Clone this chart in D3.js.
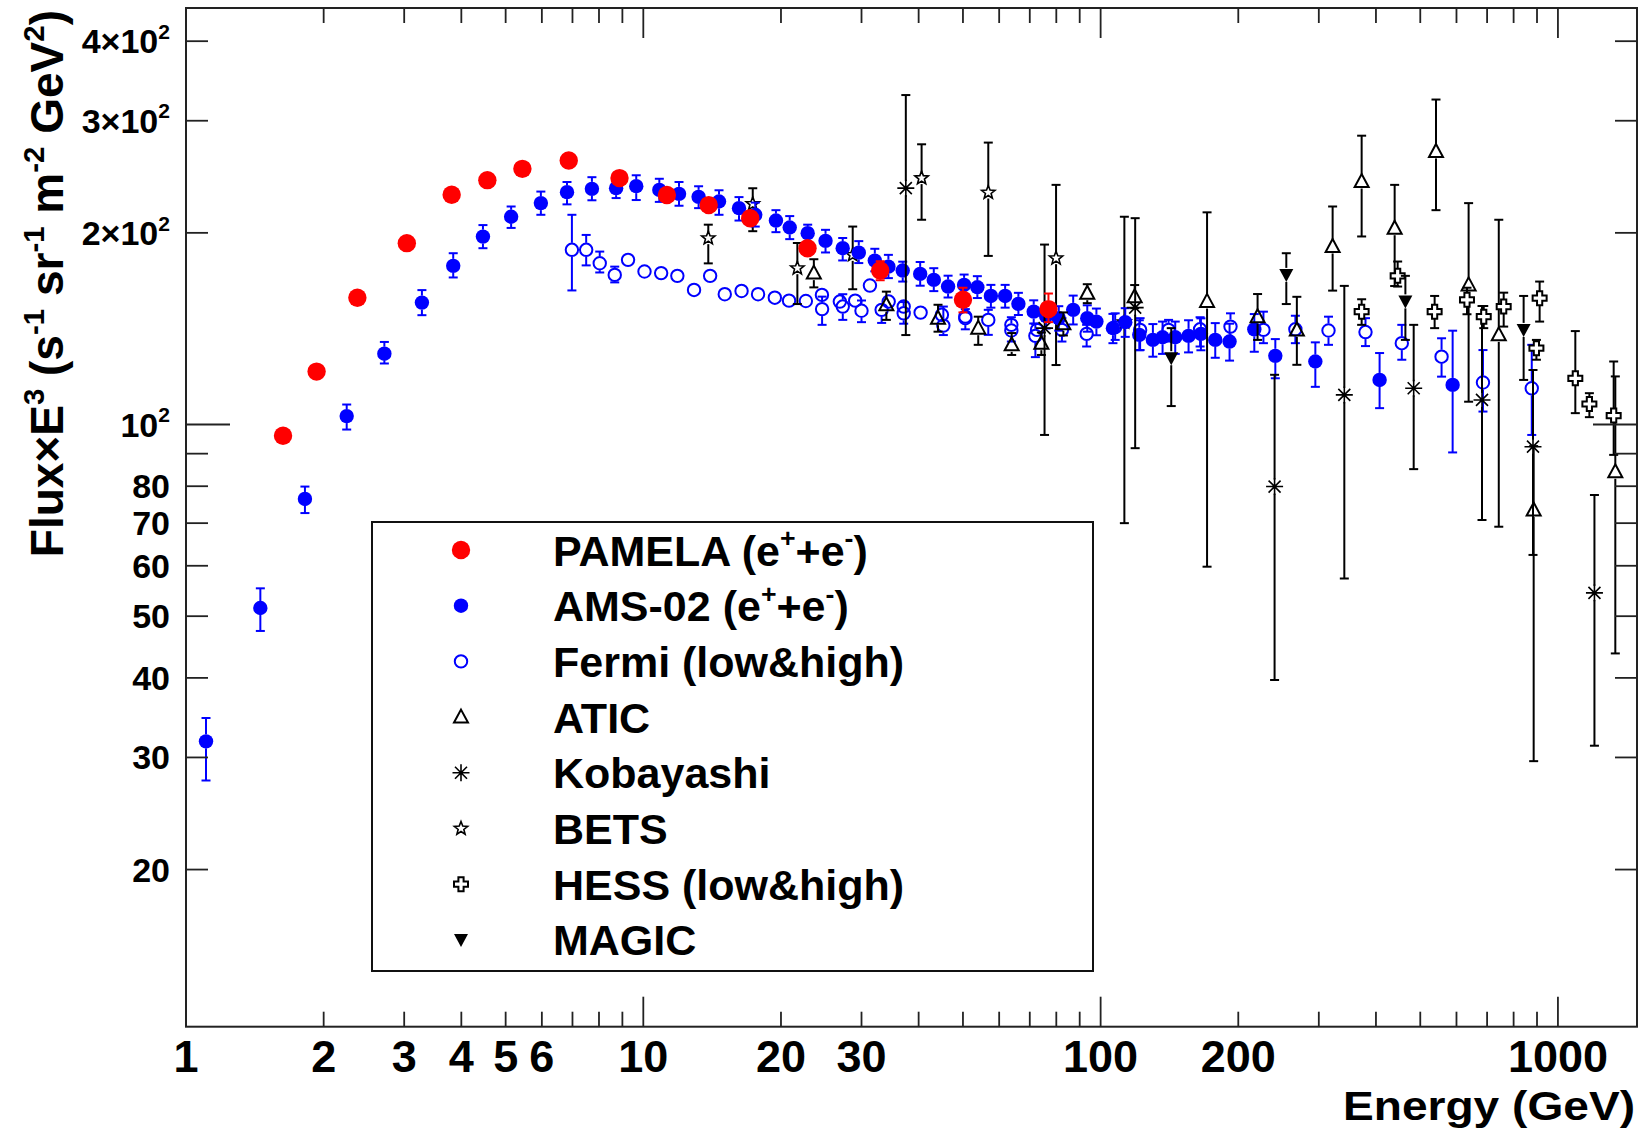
<!DOCTYPE html>
<html>
<head>
<meta charset="utf-8">
<script src="https://cdn.jsdelivr.net/npm/d3@7"></script>
<style>
  html, body { margin: 0; padding: 0; background: #ffffff; }
  svg { display: block; font-family: "Liberation Sans", Arial, Helvetica, sans-serif; font-weight: bold; }
</style>
</head>
<body>
<svg id="chart" width="1641" height="1133"></svg>
<script>
// ---- measurements: each row is [energy GeV, flux x E^3, error up, error down] ----
const pamela = [
  [1.63, 96.0, 1.5, 1.5], [1.93, 121.1, 1.8, 1.8], [2.37, 158.2, 2.2, 2.2], [3.04, 192.7, 2.6, 2.6],
  [3.81, 229.5, 3.0, 3.0], [4.56, 242.0, 3.2, 3.2], [5.44, 252.1, 3.4, 3.4], [6.87, 259.8, 3.6, 3.6],
  [8.87, 243.8, 3.6, 3.6], [11.26, 229.3, 3.8, 3.8], [13.9, 221.1, 4.0, 4.0], [17.13, 210.9, 4.5, 4.5],
  [22.86, 189.2, 5.0, 5.0], [32.96, 174.5, 6.0, 6.0], [50.0, 157.0, 7.0, 7.0], [76.9, 151.8, 8.8, 7.0]
];

const ams02 = [
  [1.106, 31.8, 2.8, 4.2], [1.454, 51.5, 3.8, 4.1], [1.82, 76.4, 3.5, 3.8], [2.246, 103.1, 4.4, 4.9],
  [2.715, 129.2, 5.6, 4.5], [3.28, 155.4, 7.2, 6.9], [3.84, 177.5, 8.3, 7.3], [4.46, 197.3, 8.4, 8.1],
  [5.14, 212.0, 8.0, 8.4], [5.97, 222.7, 9.5, 9.2], [6.81, 231.7, 8.7, 10.0], [7.72, 234.5, 10.1, 9.5],
  [8.72, 235.1, 8.7, 8.3], [9.65, 236.8, 9.5, 11.6], [10.84, 233.6, 9.6, 9.9], [11.97, 230.3, 10.1, 9.7],
  [13.21, 227.8, 8.9, 9.1], [14.64, 224.0, 9.3, 10.5], [16.19, 218.7, 8.9, 9.6], [17.57, 213.5, 9.6, 8.9],
  [19.5, 209.1, 8.0, 8.6], [20.9, 203.9, 8.6, 8.4], [22.88, 199.8, 6.2, 7.1], [25.03, 194.3, 7.9, 8.0],
  [27.29, 189.2, 7.1, 8.2], [29.59, 186.2, 7.9, 6.9], [32.08, 180.9, 7.9, 6.9], [34.35, 177.0, 7.7, 7.2],
  [36.92, 174.5, 5.7, 6.8], [40.31, 172.4, 7.6, 7.2], [43.17, 168.7, 7.3, 6.7], [46.39, 164.7, 6.6, 6.4],
  [50.29, 165.7, 6.3, 6.6], [53.76, 164.3, 6.7, 6.3], [57.55, 159.2, 6.5, 6.6], [61.83, 159.2, 6.5, 6.6],
  [66.1, 154.7, 6.3, 6.1], [71.4, 150.4, 6.3, 6.3], [76.0, 148.0, 6.5, 6.5], [81.0, 146.9, 6.5, 6.5],
  [87.1, 151.4, 8.0, 7.8], [93.5, 146.9, 7.0, 7.0], [97.9, 145.1, 7.0, 7.0], [106.4, 141.7, 7.5, 7.5],
  [113.2, 144.8, 7.5, 7.5], [121.5, 138.3, 7.5, 7.5], [130.1, 135.8, 8.0, 8.0], [136.6, 137.1, 8.0, 8.0],
  [145.6, 137.1, 8.0, 8.0], [155.7, 137.8, 8.0, 8.0], [165.7, 138.8, 8.0, 8.0], [178.1, 135.8, 8.5, 8.5],
  [191.4, 135.0, 9.0, 9.0], [216.8, 141.1, 8.0, 11.0], [241.0, 128.2, 8.0, 10.0], [294.8, 125.6, 9.0, 11.0],
  [407.4, 117.5, 12.0, 11.4], [588.5, 115.4, 25.0, 25.0]
];

const fermiLow = [
  [6.98, 188.1, 25.4, 25.7], [7.50, 188.1, 10.4, 10.3], [8.03, 179.2, 7.7, 5.9], [8.66, 171.8, 5.2, 4.6],
  [9.26, 181.4, 3, 3], [10.06, 173.9, 3, 3], [10.94, 172.9, 3, 3], [11.87, 171.2, 3, 3],
  [12.91, 162.7, 3, 3], [14.0, 171.2, 3, 3], [15.07, 160.2, 3, 3], [16.4, 162.1, 3, 3],
  [17.82, 160.2, 3, 3], [19.39, 158.2, 3, 3], [20.83, 156.5, 3, 3], [22.67, 156.3, 3, 3],
  [24.58, 159.8, 3, 3], [26.9, 156.0, 3, 3], [29.06, 156.5, 3, 3], [31.3, 165.3, 3, 3],
  [34.4, 156.0, 3, 3], [37.1, 153.2, 3, 3], [40.4, 149.9, 3, 3], [44.97, 148.7, 3, 3],
  [50.6, 147.7, 3, 3], [63.8, 143.4, 3, 3], [72.6, 140.8, 3, 3]
];

const fermiHigh = [
  [24.6, 151.8, 7.0, 8.4], [27.3, 153.2, 7.0, 7.2], [30.0, 150.9, 5.7, 6.1], [33.2, 151.4, 3.7, 7.0],
  [37.1, 149.5, 6.2, 5.5], [45.3, 143.0, 10.2, 4.8], [50.6, 146.9, 4.9, 5.8], [56.8, 146.0, 5.4, 7.7],
  [63.8, 140.5, 6.9, 5.5], [72.0, 137.8, 6.1, 10.2], [82.3, 140.8, 6.1, 5.8], [93.2, 138.8, 4.6, 6.2],
  [107.6, 142.2, 7.3, 6.4], [122.0, 140.8, 6.1, 9.9], [140.8, 140.8, 5.2, 5.8], [165.0, 141.1, 6.3, 8.5],
  [192.3, 142.5, 7.0, 6.4], [227.0, 140.8, 9.6, 6.6], [266.6, 141.1, 7.1, 6.9], [315.0, 140.5, 7.2, 7.1],
  [379.5, 139.7, 7.2, 6.9], [455.6, 134.2, 9.2, 7.8], [556.6, 127.8, 8.8, 8.9], [685.6, 116.4, 14.5, 11.6],
  [876.5, 114.0, 19.4, 17.7]
];

const atic = [
  [23.6, 172.9, 8.9, 8.7], [34.0, 154.2, 7.5, 8.2], [44.1, 146.9, 7.3, 7.0], [54.0, 141.7, 6.0, 8.3],
  [63.9, 133.4, 5.8, 4.8], [74.2, 134.2, 5.3, 5.6], [82.9, 144.0, 6.0, 6.0], [93.5, 160.8, 5.3, 5.7],
  [118.7, 158.8, 6.8, 6.5], [170.9, 156.1, 59.3, 96.3], [220.4, 147.7, 12.6, 11.9], [268.6, 140.8, 17.9, 16.7],
  [321.6, 190.4, 29.6, 28.1], [372.2, 240.8, 43.4, 43.4], [439.5, 203.4, 34.5, 38.4], [541.2, 268.5, 55.4, 51.4],
  [637.8, 165.7, 57.0, 57.1], [742.4, 138.3, 71.4, 69.2], [885.0, 73.4, 19.1, 43.8], [1335, 84.3, 34.7, 40.6]
];

const kobayashi = [
  [37.5, 235.1, 94.1, 96.9], [75.4, 141.7, 50.0, 45.4], [119.0, 152.6, 58.3, 60.8],
  [240.1, 79.9, 39.8, 40.2], [341.1, 111.3, 53.8, 54.0], [483.7, 114.0, 29.4, 28.9],
  [682.3, 109.3, 44.2, 38.5], [882.0, 92.3, 29.5, 29.9], [1201.8, 54.4, 23.1, 23.1]
];

const bets = [
  [13.87, 196.2, 9.8, 17.1], [17.35, 222.1, 12.9, 20.9], [21.72, 176.0, 16.8, 21.4],
  [28.7, 184.7, 19.9, 21.6], [40.6, 243.8, 31.7, 34.1], [56.8, 231.4, 45.8, 47.4],
  [79.9, 182.5, 55.4, 58.5], [112.7, 144.8, 67.2, 74.8]
];

const hess = [
  [372.2, 150.4, 6.9, 7.0], [446.2, 171.2, 9.1, 6.5], [537.5, 150.4, 8.8, 8.7], [632.6, 157.0, 7.0, 8.0],
  [688.3, 147.7, 5.8, 6.0], [761.0, 153.2, 7.9, 10.7], [897.3, 131.8, 4.0, 5.4], [912.0, 157.9, 9.8, 12.8],
  [1091.5, 118.2, 22.0, 14.0], [1171.6, 107.7, 4.3, 5.0], [1324, 103.3, 22.3, 13.7]
];

const magic = [
  [142.7, 127.1, 14.6, 20.2], [254.7, 171.8, 14.0, 17.2], [463.9, 156.1, 15.1, 20.3], [841.4, 140.8, 18.4, 23.3]
];

// ---- axis ticks and labels ----
const xTickLabels = [1, 2, 3, 4, 5, 6, 10, 20, 30, 100, 200, 1000];
const yTickValues = [20, 30, 40, 50, 60, 70, 80, 90, 100, 200, 300, 400];
const yTickLabels = [[20, "20"], [30, "30"], [40, "40"], [50, "50"], [60, "60"], [70, "70"], [80, "80"],
                     [100, "10^{2}"], [200, "2×10^{2}"], [300, "3×10^{2}"], [400, "4×10^{2}"]];
const legendEntries = [
  ["PAMELA (e^{+}+e^{-})", "pamela"], ["AMS-02 (e^{+}+e^{-})", "ams"], ["Fermi (low&high)", "fermi"],
  ["ATIC", "atic"], ["Kobayashi", "kobayashi"], ["BETS", "bets"], ["HESS (low&high)", "hess"], ["MAGIC", "magic"]
];

// ---- frame geometry ----
const frame = { left: 186, right: 1637, top: 8, bottom: 1026.7 };
const x = d3.scaleLog().domain([1, 1489]).range([frame.left, frame.right]);
const y = d3.scaleLog().domain([11.33, 451]).range([frame.bottom, frame.top]);

const svg = d3.select("#chart");
svg.append("rect").attr("width", 1641).attr("height", 1133).attr("fill", "#ffffff");

// text with ^{...} superscripts
function richText(sel, str, fs, supScale) {
  const parts = str.split(/(\^\{[^}]*\})/).filter(s => s.length);
  let raised = false;
  parts.forEach(p => {
    const sup = p.startsWith("^{");
    const t = sel.append("tspan").text(sup ? p.slice(2, -1) : p);
    if (sup) {
      t.attr("font-size", fs * supScale).attr("dy", -fs * 0.42);
      raised = true;
    } else if (raised) {
      t.attr("dy", fs * 0.42);
      raised = false;
    }
  });
}

// ---- marker styles ----
const styles = {
  pamela:    { color: "#ff0000", gap: 9 },
  ams:       { color: "#0000ff", gap: 7 },
  fermi:     { color: "#0000ff", gap: 7 },
  atic:      { color: "#000000", gap: 7 },
  kobayashi: { color: "#000000", gap: 7 },
  bets:      { color: "#000000", gap: 6 },
  hess:      { color: "#000000", gap: 7 },
  magic:     { color: "#000000", gap: 7 }
};

function starPath(ro, ri) {
  let p = "";
  for (let i = 0; i < 10; i++) {
    const r = i % 2 ? ri : ro;
    const a = -Math.PI / 2 + i * Math.PI / 5;
    p += (i ? "L" : "M") + (r * Math.cos(a)).toFixed(2) + "," + (r * Math.sin(a)).toFixed(2);
  }
  return p + "Z";
}

function drawMarker(g, kind, cx, cy) {
  const m = g.append("g").attr("transform", `translate(${cx},${cy})`);
  const c = styles[kind].color;
  switch (kind) {
    case "pamela":
      m.append("circle").attr("r", 9.2).attr("fill", c); break;
    case "ams":
      m.append("circle").attr("r", 7.2).attr("fill", c); break;
    case "fermi":
      m.append("circle").attr("r", 6.2).attr("fill", "none").attr("stroke", c).attr("stroke-width", 2); break;
    case "atic":
      m.append("path").attr("d", "M0,-7.5L7,5.5L-7,5.5Z").attr("fill", "none").attr("stroke", c).attr("stroke-width", 2); break;
    case "magic":
      m.append("path").attr("d", "M0,7L7,-6L-7,-6Z").attr("fill", c); break;
    case "kobayashi":
      m.append("path").attr("d", "M0,-8.5V8.5M-8.5,0H8.5M-6,-6L6,6M-6,6L6,-6")
        .attr("stroke", c).attr("stroke-width", 1.6).attr("fill", "none"); break;
    case "bets":
      m.append("path").attr("d", starPath(7, 3)).attr("fill", "none").attr("stroke", c).attr("stroke-width", 1.6); break;
    case "hess":
      m.append("path").attr("d", "M-2.6,-7H2.6V-2.6H7V2.6H2.6V7H-2.6V2.6H-7V-2.6H-2.6Z")
        .attr("fill", "#ffffff").attr("stroke", c).attr("stroke-width", 2); break;
  }
}

function drawSeries(rows, kind) {
  const g = svg.append("g").attr("class", kind);
  const st = styles[kind];
  rows.forEach(([e, f, up, dn]) => {
    const cx = x(e), cy = y(f);
    const yt = y(f + up), yb = y(f - dn);
    const eg = g.append("g").attr("stroke", st.color).attr("stroke-width", 2).attr("fill", "none");
    if (cy - yt > st.gap) {
      eg.append("line").attr("x1", cx).attr("x2", cx).attr("y1", yt).attr("y2", cy - st.gap);
      eg.append("line").attr("x1", cx - 4.5).attr("x2", cx + 4.5).attr("y1", yt).attr("y2", yt);
    }
    if (yb - cy > st.gap) {
      eg.append("line").attr("x1", cx).attr("x2", cx).attr("y1", cy + st.gap).attr("y2", yb);
      eg.append("line").attr("x1", cx - 4.5).attr("x2", cx + 4.5).attr("y1", yb).attr("y2", yb);
    }
    drawMarker(g, kind, cx, cy);
  });
}

// ---- data layers ----
drawSeries(fermiLow, "fermi");
drawSeries(fermiHigh, "fermi");
drawSeries(bets, "bets");
drawSeries(ams02, "ams");
drawSeries(atic, "atic");
drawSeries(kobayashi, "kobayashi");
drawSeries(hess, "hess");
drawSeries(magic, "magic");
drawSeries(pamela, "pamela");

// ---- frame and ticks ----
const axisColor = "#222222";
svg.append("rect")
  .attr("x", frame.left).attr("y", frame.top)
  .attr("width", frame.right - frame.left).attr("height", frame.bottom - frame.top)
  .attr("fill", "none").attr("stroke", axisColor).attr("stroke-width", 2);

const xTicks = [];
[1, 10, 100, 1000].forEach(d => {
  for (let k = 1; k <= 9; k++) {
    const v = d * k;
    if (v > 1 && v <= x.domain()[1]) xTicks.push({ v, major: k === 1 });
  }
});
const tickG = svg.append("g").attr("stroke", axisColor).attr("stroke-width", 1.8);
xTicks.forEach(t => {
  const px = x(t.v), len = t.major ? 30 : 15;
  tickG.append("line").attr("x1", px).attr("x2", px).attr("y1", frame.bottom).attr("y2", frame.bottom - len);
  tickG.append("line").attr("x1", px).attr("x2", px).attr("y1", frame.top).attr("y2", frame.top + len);
});
yTickValues.forEach(v => {
  const py = y(v), len = v === 100 ? 44 : 22;
  tickG.append("line").attr("x1", frame.left).attr("x2", frame.left + len).attr("y1", py).attr("y2", py);
  tickG.append("line").attr("x1", frame.right).attr("x2", frame.right - len).attr("y1", py).attr("y2", py);
});

// tick labels
xTickLabels.forEach(v => {
  svg.append("text").attr("x", x(v)).attr("y", 1072)
    .attr("text-anchor", "middle").attr("font-size", 45).attr("fill", "#000").text(v);
});
yTickLabels.forEach(([v, s]) => {
  const t = svg.append("text").attr("x", 170).attr("y", y(v) + 12)
    .attr("text-anchor", "end").attr("font-size", 34).attr("fill", "#000");
  richText(t, s, 34, 0.62);
});

// axis titles
svg.append("text").attr("x", 1635).attr("y", 1120).attr("text-anchor", "end")
  .attr("font-size", 40).attr("textLength", 292).attr("lengthAdjust", "spacingAndGlyphs")
  .attr("fill", "#000").text("Energy (GeV)");
const yTitle = svg.append("text").attr("transform", "translate(63,10) rotate(-90)")
  .attr("text-anchor", "end").attr("font-size", 46).attr("fill", "#000");
richText(yTitle, "Flux×E^{3} (s^{-1} sr^{-1} m^{-2} GeV^{2})", 46, 0.64);

// ---- legend ----
const leg = { x0: 372, y0: 522, x1: 1093, y1: 971, rowTop: 550, rowStep: 55.7, markX: 461, textX: 553 };
svg.append("rect").attr("x", leg.x0).attr("y", leg.y0)
  .attr("width", leg.x1 - leg.x0).attr("height", leg.y1 - leg.y0)
  .attr("fill", "#ffffff").attr("stroke", "#111").attr("stroke-width", 2);
legendEntries.forEach(([label, kind], i) => {
  const cy = leg.rowTop + i * leg.rowStep;
  drawMarker(svg, kind, leg.markX, cy);
  const t = svg.append("text").attr("x", leg.textX).attr("y", cy + 15.5)
    .attr("font-size", 43).attr("fill", "#000");
  richText(t, label, 43, 0.62);
});
</script>
</body>
</html>
